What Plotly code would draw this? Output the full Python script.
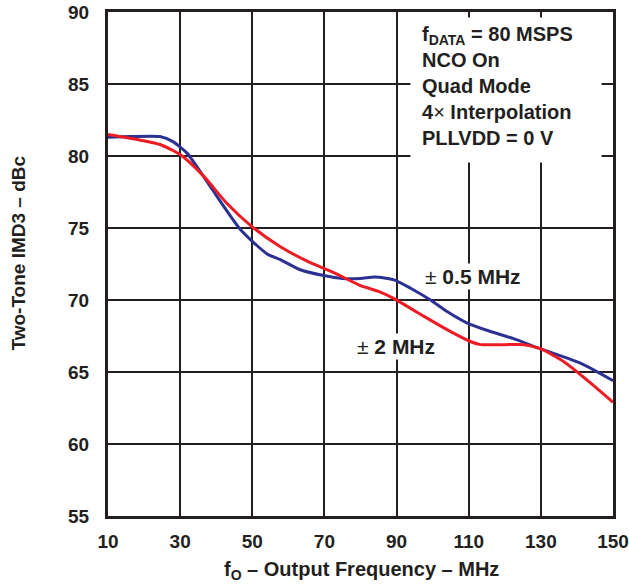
import plotly.graph_objects as go

# ±0.5 MHz tone spacing (blue)
freq_a = [10, 16, 24.4, 28, 31.9, 38.3, 46.7, 54.1, 57.8, 63.3, 69.8, 75, 80, 84, 89.3, 94, 99.4, 104, 109.6, 115, 122.6, 130, 141.1, 150]
imd_a = [81.3, 81.35, 81.35, 81.0, 80.2, 77.9, 74.9, 73.2, 72.8, 72.1, 71.7, 71.5, 71.5, 71.6, 71.4, 70.8, 70.0, 69.2, 68.4, 67.9, 67.3, 66.6, 65.6, 64.4]

# ±2 MHz tone spacing (red)
freq_b = [10, 17, 24.4, 30, 36.5, 43, 49.9, 57.8, 65.2, 72.6, 80, 85, 89.3, 94, 99.4, 105, 110.6, 113.3, 120, 125.4, 130, 136.5, 143, 150]
imd_b = [81.5, 81.2, 80.8, 80.1, 78.6, 76.7, 75.1, 73.7, 72.7, 71.9, 71.0, 70.6, 70.1, 69.4, 68.6, 67.8, 67.1, 66.9, 66.9, 66.9, 66.6, 65.7, 64.4, 62.9]

x_ticks = [10, 30, 50, 70, 90, 110, 130, 150]
y_ticks = [55, 60, 65, 70, 75, 80, 85, 90]

FONT = "Liberation Sans, Arial, sans-serif"
INK = "#231f20"
W, H = 629, 586
ML, MR, MT, MB = 108, 16, 12, 70

fig = go.Figure()
fig.add_trace(go.Scatter(x=freq_a, y=imd_a, mode="lines",
                         line=dict(color="#2b3192", width=3, shape="spline", smoothing=0.6),
                         showlegend=False))
fig.add_trace(go.Scatter(x=freq_b, y=imd_b, mode="lines",
                         line=dict(color="#ed1c24", width=3, shape="spline", smoothing=0.6),
                         showlegend=False))

axis_common = dict(showgrid=True, gridcolor=INK, gridwidth=1.5,
                   showline=True, linecolor=INK, linewidth=3, mirror=True,
                   ticks="", zeroline=False, automargin=False,
                   tickfont=dict(family=FONT, size=19, color=INK, weight="bold"))

fig.update_xaxes(range=[10, 150], tickvals=x_ticks, ticklabelstandoff=6, **axis_common)
fig.update_yaxes(range=[55, 90], tickvals=y_ticks, ticklabelstandoff=12, **axis_common)

def px_x(p):
    return (p - ML) / (W - ML - MR)

def px_y(p):
    return (H - MB - p) / (H - MT - MB)

# axis titles
fig.add_annotation(x=px_x(361), y=px_y(570), xref="paper", yref="paper", showarrow=False,
                   text="f<sub>O</sub> – Output Frequency – MHz", yanchor="middle",
                   font=dict(family=FONT, size=20, color=INK, weight="bold"))
fig.add_annotation(x=px_x(6), y=px_y(253), xref="paper", yref="paper", showarrow=False,
                   text="Two-Tone IMD3 – dBc", textangle=-90,
                   font=dict(family=FONT, size=19, color=INK, weight="bold"))

# white panel behind the conditions text
fig.add_annotation(x=px_x(410), y=px_y(17), xref="paper", yref="paper", xanchor="left", yanchor="top",
                   showarrow=False, bgcolor="white", borderpad=0, width=190, height=144,
                   text=" ", font=dict(size=10))

nb = "<span style='font-weight:normal'>%s</span>"
fig.add_annotation(x=px_x(417), y=px_y(18), xref="paper", yref="paper", xanchor="left", yanchor="top",
                   align="left", showarrow=False, borderpad=4,
                   text=("f<sub>DATA</sub> = 80 MSPS<br>NCO On<br>Quad Mode<br>4" + nb % "×" +
                         " Interpolation<br>PLLVDD = 0 V"),
                   font=dict(family=FONT, size=20, color=INK, weight="bold"))
fig.add_annotation(x=111.3, y=71.6, xref="x", yref="y", showarrow=False, bgcolor="white",
                   text=nb % "±" + " 0.5 MHz",
                   font=dict(family=FONT, size=21, color=INK, weight="bold"))
fig.add_annotation(x=89.9, y=66.8, xref="x", yref="y", showarrow=False, bgcolor="white",
                   text=nb % "±" + " 2 MHz",
                   font=dict(family=FONT, size=21, color=INK, weight="bold"))

fig.update_layout(width=W, height=H, margin=dict(l=ML, r=MR, t=MT, b=MB),
                  paper_bgcolor="white", plot_bgcolor="white")

fig.write_html("out.html")
